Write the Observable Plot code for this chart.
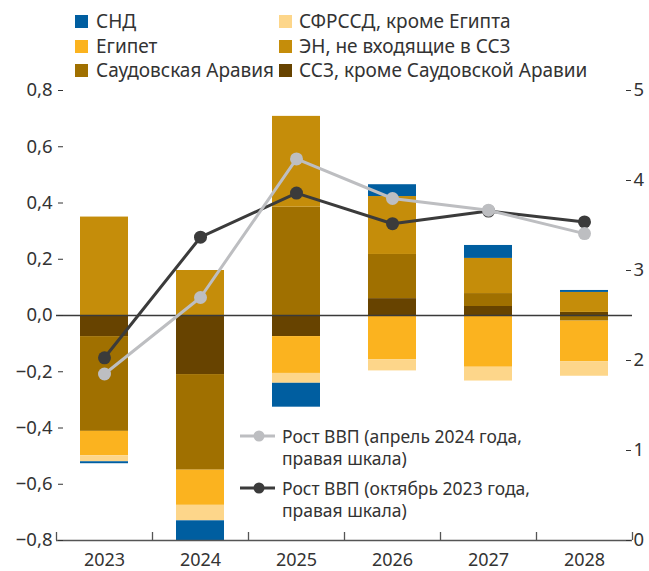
<!DOCTYPE html>
<html><head><meta charset="utf-8">
<script src="https://cdn.jsdelivr.net/npm/d3@7"></script>
<script src="https://cdn.jsdelivr.net/npm/@observablehq/plot@0.6"></script>
<style>
body{margin:0;background:#fff;font-family:"Noto Sans",sans-serif;color:#333;}
#wrap{position:relative;width:649px;height:571px;overflow:hidden;}
#wrap svg.plot{position:absolute;left:0;top:0;}
.leg{position:absolute;font-size:19px;line-height:20px;white-space:nowrap;color:#333;}
.sw{position:absolute;width:13px;height:13px;}
.lleg{position:absolute;font-size:17.5px;line-height:20px;color:#333;white-space:nowrap;}
.lsym{position:absolute;}
</style></head><body><div id="wrap"></div>
<script>
const years = ["2023", "2024", "2025", "2026", "2027", "2028"];
// series (stack order from zero outward)
const gccExSaudi = [-0.075, -0.21, -0.075, 0.06, 0.032, 0.011];
const saudiArabia = [-0.337, -0.34, 0.385, 0.157, 0.046, -0.02];
const oilExpNonGcc = [0.35, 0.16, 0.323, 0.206, 0.125, 0.071];
const egypt = [-0.087, -0.125, -0.131, -0.158, -0.184, -0.145];
const mcdExEgypt = [-0.021, -0.055, -0.035, -0.039, -0.049, -0.051];
const cis = [-0.007, -0.07, -0.085, 0.042, 0.046, 0.007];

const seriesNames = ["ССЗ, кроме Саудовской Аравии", "Саудовская Аравия", "ЭН, не входящие в ССЗ", "Египет", "СФРССД, кроме Египта", "СНД"];
const seriesValues = [gccExSaudi, saudiArabia, oilExpNonGcc, egypt, mcdExEgypt, cis];
const seriesColors = ["#674300", "#A07000", "#C58D0A", "#FBB31F", "#FDD68A", "#005EA0"];

// GDP growth, right scale
const gdpApr2024 = [1.85, 2.70, 4.24, 3.80, 3.67, 3.41];
const gdpOct2023 = [2.03, 3.37, 3.86, 3.52, 3.66, 3.54];
const lineNames = ["Рост ВВП (апрель 2024 года, правая шкала)", "Рост ВВП (октябрь 2023 года, правая шкала)"];
const lineColors = ["#BDBEC1", "#3B3B3B"];

const leftTicks = [-0.8, -0.6, -0.4, -0.2, 0, 0.2, 0.4, 0.6, 0.8];
const rightTicks = [0, 1, 2, 3, 4, 5];

const legendCol1 = ["СНД", "Египет", "Саудовская Аравия"];
const legendCol2 = ["СФРССД, кроме Египта", "ЭН, не входящие в ССЗ", "ССЗ, кроме Саудовской Аравии"];

// build tables
const table = [];
years.forEach((yr, i) => {
  seriesNames.forEach((s, j) => table.push({year: yr, series: s, value: seriesValues[j][i]}));
});
const toLeft = r => -0.8 + 0.32 * r;
const fromLeft = v => (v + 0.8) / 0.32;
const lineApr = years.map((yr, i) => ({year: yr, v: gdpApr2024[i]}));
const lineOct = years.map((yr, i) => ({year: yr, v: gdpOct2023[i]}));
const fmt = v => (v < -1e-9 ? "\u2212" : "") + Math.abs(v).toFixed(1).replace(".", ",");

const plot = Plot.plot({
  width: 649, height: 571,
  marginTop: 90, marginBottom: 31, marginLeft: 63, marginRight: 24,
  x: {domain: years, range: [56, 632], paddingInner: 0.5, paddingOuter: 0.25, label: null},
  y: {domain: [-0.8, 0.8], label: null},
  color: {domain: seriesNames, range: seriesColors},
  style: {fontFamily: "Noto Sans", fontSize: "18px", color: "#333", background: "transparent"},
  marks: [
    Plot.barY(table, {x: "year", y: "value", fill: "series"}),
    Plot.ruleY([0], {stroke: "#3a3a3a", strokeWidth: 1.3, insetLeft: -7, insetRight: -7}),
    Plot.ruleY([-0.8], {stroke: "#555", strokeWidth: 1.3, insetLeft: -7, insetRight: -7}),
    Plot.ruleX(years, {x: d => d, dx: -48, y1: -0.8, y2: -0.8 + 8 / 281.25, stroke: "#555", strokeWidth: 1.3}),
    Plot.ruleX([years[years.length - 1]], {x: d => d, dx: 48, y1: -0.8, y2: -0.8 + 8 / 281.25, stroke: "#555", strokeWidth: 1.3}),
    Plot.line(lineOct, {x: "year", y: d => toLeft(d.v), stroke: lineColors[1], strokeWidth: 3}),
    Plot.dot(lineOct, {x: "year", y: d => toLeft(d.v), fill: lineColors[1], r: 6.5}),
    Plot.line(lineApr, {x: "year", y: d => toLeft(d.v), stroke: lineColors[0], strokeWidth: 3}),
    Plot.dot(lineApr, {x: "year", y: d => toLeft(d.v), fill: lineColors[0], r: 6.5}),
    Plot.axisY(leftTicks, {anchor: "left", tickSize: 5, tickPadding: 6, tickFormat: fmt, label: null, stroke: "#333", fontSize: 18.5}),
    Plot.axisY(rightTicks.map(toLeft), {anchor: "right", tickSize: 5, tickPadding: 3, tickFormat: v => String(Math.round(fromLeft(v))), label: null, stroke: "#333", fontSize: 18.5}),
    Plot.axisX({tickSize: 0, tickPadding: 13, fontSize: 18, label: null})
  ]
});
plot.classList.add("plot");
const wrap = document.getElementById("wrap");
wrap.appendChild(plot);

// top legend
const colorOf = name => seriesColors[seriesNames.indexOf(name)];
const rowsY = [21, 46, 70];
function addLegend(list, swX, txtX) {
  list.forEach((name, k) => {
    const sw = document.createElement("div");
    sw.className = "sw";
    sw.style.left = swX + "px";
    sw.style.top = (rowsY[k] - 6.5) + "px";
    sw.style.background = colorOf(name);
    wrap.appendChild(sw);
    const t = document.createElement("div");
    t.className = "leg";
    t.style.left = txtX + "px";
    t.style.top = (rowsY[k] - 10) + "px";
    t.textContent = name;
    wrap.appendChild(t);
  });
}
addLegend(legendCol1, 75, 96);
addLegend(legendCol2, 279, 299);

// line legend
const lineLegY = [436, 488];
lineNames.forEach((name, k) => {
  const svgNS = "http://www.w3.org/2000/svg";
  const s = document.createElementNS(svgNS, "svg");
  s.setAttribute("width", 40); s.setAttribute("height", 14);
  s.setAttribute("class", "lsym");
  s.style.left = "238px"; s.style.top = (lineLegY[k] - 7) + "px";
  const l = document.createElementNS(svgNS, "line");
  l.setAttribute("x1", 2); l.setAttribute("x2", 37); l.setAttribute("y1", 7); l.setAttribute("y2", 7);
  l.setAttribute("stroke", lineColors[k]); l.setAttribute("stroke-width", 3);
  s.appendChild(l);
  const c = document.createElementNS(svgNS, "circle");
  c.setAttribute("cx", 21); c.setAttribute("cy", 7); c.setAttribute("r", 5.5);
  c.setAttribute("fill", lineColors[k]);
  s.appendChild(c);
  wrap.appendChild(s);
  const parts = name.split(", ");
  parts.forEach((p, m) => {
    const t = document.createElement("div");
    t.className = "lleg";
    t.style.left = "282px";
    t.style.top = (lineLegY[k] - 10 + m * 22) + "px";
    t.textContent = m === 0 ? p + "," : p;
    wrap.appendChild(t);
  });
});
</script></body></html>
